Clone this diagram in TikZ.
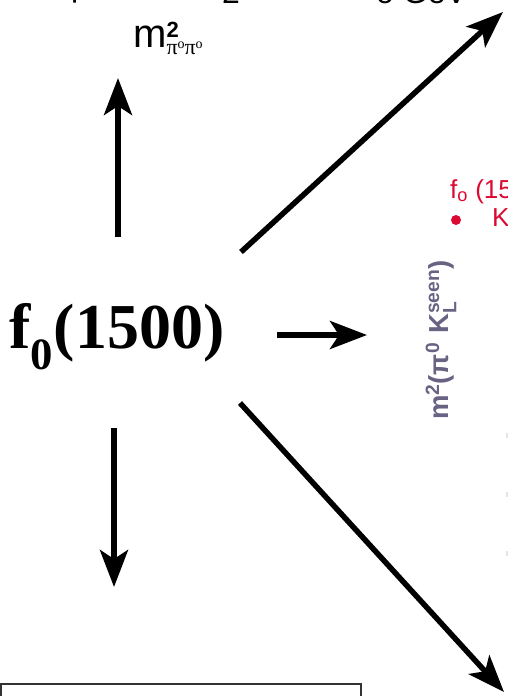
\documentclass[tikz,border=0pt]{standalone}
\usepackage{amsmath}
\usepackage{fontspec}
\setmainfont{Liberation Serif}
\setsansfont{Liberation Sans}
\usetikzlibrary{arrows.meta}
\definecolor{hred}{RGB}{220,10,50}
\definecolor{hgray}{RGB}{105,98,130}
\tikzset{
  bigarrow/.style={line width=5.5pt,-{Stealth[length=37pt,width=28pt,inset=9pt]}},
  sanslbl/.style={font=\sffamily, inner sep=0pt},
}
\begin{document}
\begin{tikzpicture}[x=1pt,y=-1pt]
\useasboundingbox (0,0) rectangle (508,696);
\begin{scope}
\clip (0,0) rectangle (508,696);
% cut-off text at top edge
\node[sanslbl, font=\sffamily\fontsize{32}{32}\selectfont, anchor=base] (tp) at (80,-4) {p};
\node[sanslbl, font=\sffamily\fontsize{32}{32}\selectfont, anchor=base] (t2) at (231,4) {2};
\node[sanslbl, font=\sffamily\fontsize{32}{32}\selectfont, anchor=base west] (tg) at (376,4) {o GeV};
% main node
\node[inner sep=0pt, font=\fontsize{64}{64}\selectfont\bfseries] (f0) at (117,337) {f$_{\mathbf{0}}$(1500)};
% arrow ends
\coordinate (upS) at (118,237);
\coordinate (upE) at (118,78);
\coordinate (urS) at (241,252);
\coordinate (urE) at (503,12);
\coordinate (rS) at (277,335);
\coordinate (rE) at (367,335);
\coordinate (dS) at (114,428);
\coordinate (dE) at (114,587);
\coordinate (drS) at (240,403);
\coordinate (drE) at (504,692);
\draw[bigarrow] (upS) -- (upE);
\draw[bigarrow] (urS) -- (urE);
\draw[bigarrow] (rS) -- (rE);
\draw[bigarrow] (dS) -- (dE);
\draw[bigarrow] (drS) -- (drE);
% m^2 pi0 pi0 label
\node[sanslbl, font=\sffamily\fontsize{40}{40}\selectfont, anchor=base west] (mpp) at (133,47)
  {m$^{\textbf{\fontsize{22}{22}\selectfont 2}}_{\text{\rmfamily\fontsize{22}{22}\selectfont π\raisebox{6pt}{\fontsize{14}{14}\selectfont o}π\raisebox{6pt}{\fontsize{14}{14}\selectfont o}}}$};
% red legend text
\node[sanslbl, text=hred, font=\sffamily\fontsize{26}{26}\selectfont, anchor=base west] (leg1) at (450,198)
  {f$_{\text{o}}$ (1500)};
\fill[hred] (456,220) circle (5);
\node[sanslbl, text=hred, font=\sffamily\fontsize{26}{26}\selectfont, anchor=base west] (leg2) at (492,226) {K};
% rotated axis label
\node[sanslbl, text=hgray, rotate=90, font=\sffamily\bfseries\fontsize{27.5}{27.5}\selectfont] (ax) at (441,340)
  {m$^{\text{2}}$(π$^{\text{0}}$\,\,K$^{\text{seen}}_{\text{L}}$)};
% faint ticks at the right edge
\draw[line width=2pt, black!10] (507,433) -- (507,438);
\draw[line width=2pt, black!10] (507,492) -- (507,497);
\draw[line width=2pt, black!10] (507,551) -- (507,556);
% bottom box
\draw[line width=1.5pt, black!80] (0.75,684) rectangle (361,720);
\end{scope}
\end{tikzpicture}
\end{document}
